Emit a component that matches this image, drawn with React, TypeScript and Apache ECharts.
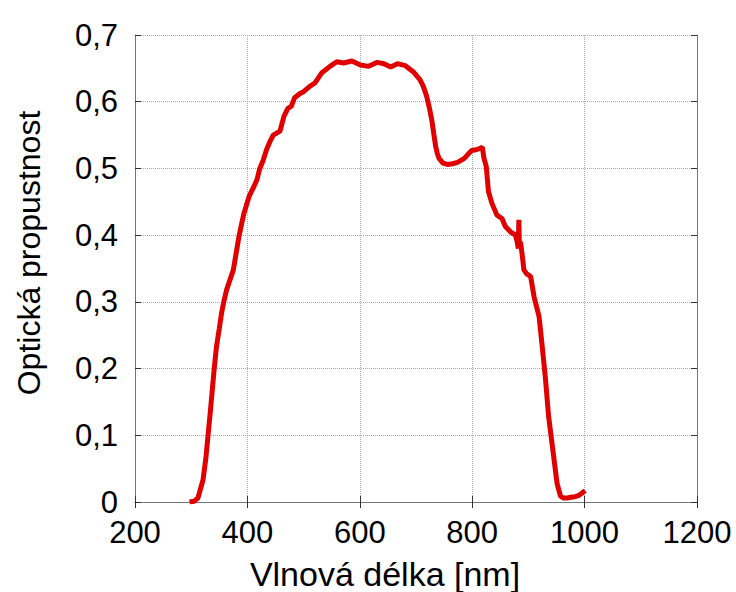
import React, { useEffect, useRef } from "react";
import * as echarts from "echarts";

const wavelength = [
  297, 305, 312, 316, 321, 326, 330, 334, 337.5, 341, 345, 350, 354, 358, 363, 369, 375, 380, 385, 390,
  394, 403, 410, 417, 422, 428, 434, 440, 446, 452, 458, 465, 472, 478, 484, 493, 500, 511, 520, 532,
  547, 559, 571, 586, 601, 616, 631, 643, 655, 667, 681, 695, 707, 713, 719, 724, 728, 732, 735, 738,
  741, 748, 756, 765, 774, 786, 799, 807, 814, 818, 821, 825, 829, 835, 844, 853, 859, 868, 877, 880,
  882, 883, 884, 886, 889, 892, 897, 904, 910, 919, 924, 930, 936, 945, 951, 957, 962, 969, 976, 983,
  990, 995, 1001,
];
const transmittance = [
  0, 0.001, 0.006, 0.018, 0.033, 0.065, 0.1, 0.135, 0.168, 0.2, 0.233, 0.26, 0.283, 0.3, 0.318, 0.333, 0.348, 0.373, 0.398, 0.418,
  0.433, 0.458, 0.47, 0.483, 0.5, 0.512, 0.528, 0.54, 0.55, 0.553, 0.556, 0.578, 0.59, 0.593, 0.606, 0.612, 0.615, 0.623, 0.628, 0.643,
  0.653, 0.66, 0.658, 0.661, 0.655, 0.653, 0.659, 0.657, 0.652, 0.657, 0.654, 0.645, 0.633, 0.623, 0.608, 0.59, 0.573, 0.55, 0.533, 0.522,
  0.515, 0.508, 0.506, 0.507, 0.509, 0.515, 0.527, 0.528, 0.53, 0.532, 0.515, 0.503, 0.465, 0.448, 0.43, 0.425, 0.413, 0.405, 0.4, 0.39,
  0.38, 0.423, 0.38, 0.39, 0.37, 0.348, 0.342, 0.338, 0.308, 0.278, 0.238, 0.188, 0.128, 0.068, 0.028, 0.009, 0.006, 0.006, 0.007, 0.008,
  0.01, 0.013, 0.017,
];

const xTitle = "Vlnová délka [nm]";
const yTitle = "Optická propustnost";

const FONT = "'Liberation Sans', Arial, sans-serif";

export default function App() {
  const ref = useRef<HTMLDivElement>(null);
  useEffect(() => {
    if (!ref.current) return;
    const chart = echarts.init(ref.current, undefined, { renderer: "svg" });
    const data = wavelength.map((w, i) => [w, transmittance[i]]);
    const fmtY = (v: number) => (v === 0 ? "0" : v.toFixed(1).replace(".", ","));
    const fmtX = (v: number) => String(Math.round(v));
    const frameAxis = {
      axisLine: { show: true, lineStyle: { color: "#777", width: 1 } },
      axisTick: { show: true, inside: true, length: 6, lineStyle: { color: "#333", width: 1 } },
    };
    chart.setOption({
      animation: false,
      backgroundColor: "#fff",
      grid: { left: 135, right: 39, top: 35, bottom: 90, containLabel: false },
      xAxis: [
        {
          type: "value",
          min: 200,
          max: 1200,
          interval: 200,
          ...frameAxis,
          axisLabel: { color: "#000", fontSize: 31, lineHeight: 26, fontFamily: FONT, margin: 17, formatter: fmtX },
          splitLine: { show: true, lineStyle: { color: "#aaa", type: "dotted", width: 1 } },
        },
        {
          type: "value",
          position: "top",
          min: 200,
          max: 1200,
          interval: 200,
          ...frameAxis,
          axisLabel: { show: false },
          splitLine: { show: false },
        },
      ],
      yAxis: [
        {
          type: "value",
          min: 0,
          max: 0.7,
          interval: 0.1,
          ...frameAxis,
          axisLabel: { color: "#000", fontSize: 31, lineHeight: 20, fontFamily: FONT, margin: 17, formatter: fmtY },
          splitLine: { show: true, lineStyle: { color: "#aaa", type: "dotted", width: 1 } },
        },
        {
          type: "value",
          position: "right",
          min: 0,
          max: 0.7,
          interval: 0.1,
          ...frameAxis,
          axisLabel: { show: false },
          splitLine: { show: false },
        },
      ],
      graphic: [
        {
          type: "text",
          x: 385,
          y: 574,
          style: { text: xTitle, fill: "#000", fontSize: 34, fontFamily: FONT, align: "center", verticalAlign: "middle" },
        },
        {
          type: "text",
          x: 29,
          y: 253,
          rotation: Math.PI / 2,
          style: { text: yTitle, fill: "#000", fontSize: 32, fontFamily: FONT, align: "center", verticalAlign: "middle" },
        },
      ],
      series: [
        {
          type: "line",
          data,
          showSymbol: false,
          lineStyle: { color: "#e00000", width: 5 },
          itemStyle: { color: "#e00000" },
        },
      ],
    });
    return () => chart.dispose();
  }, []);
  return (
    <div
      ref={ref}
      style={{ position: "absolute", left: 0, top: 0, width: 736, height: 592 }}
    />
  );
}
